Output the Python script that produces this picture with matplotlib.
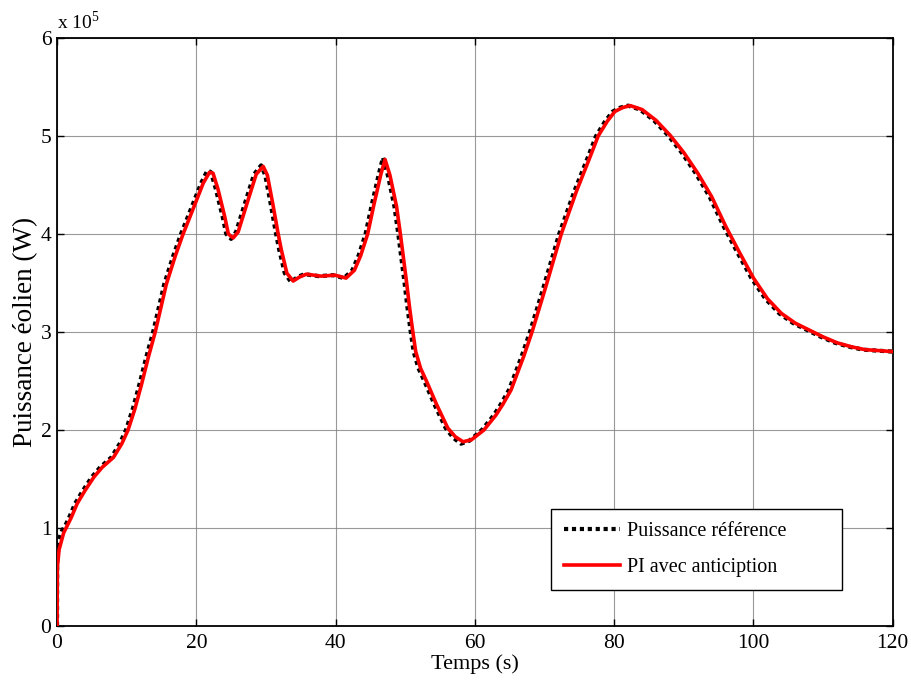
import matplotlib

matplotlib.use("Agg")

import matplotlib.pyplot as plt

plt.rcParams.update(
    {
        "font.family": ["Liberation Serif", "DejaVu Serif"],
        "mathtext.fontset": "custom",
        "mathtext.rm": "Liberation Serif",
    }
)

# wind power, in units of 1e5 W
t_pi = [0, 0.05, 0.3, 0.95, 1.3, 2.0, 2.9, 4.0, 5.3, 6.5, 8.1, 9.3, 10.2, 11.2, 12.15, 13.1, 14.1,
        15.7, 17.0, 18.1, 19.0, 20.0, 21.0, 21.9, 22.4, 23.1, 24.1, 24.6, 25.3, 26.0, 27.4, 28.6,
        29.6, 30.2, 31.0, 31.7, 32.2, 33.0, 33.9, 34.8, 35.8, 37.9, 39.9, 41.5, 42.7, 43.6, 44.6,
        45.5, 46.5, 47.1, 47.8, 48.75, 49.3, 50.2, 50.6, 51.05, 51.5, 52.2, 53.1, 54.5, 56.1, 57.2,
        58.3, 59.5, 61.3, 63.0, 64.0, 65.2, 67.0, 68.2, 70.0, 72.4, 74.6, 76.5, 77.7, 79.0, 80.1,
        81.2, 82.3, 84.0, 86.0, 88.0, 90.0, 92.0, 94.0, 96.0, 98.0, 100.0, 102.0, 104.0, 106.0,
        108.0, 110.0, 112.0, 114.0, 116.0, 118.0, 120.0]
p_pi = [0, 0.6, 0.78, 0.95, 1.0, 1.1, 1.25, 1.38, 1.52, 1.62, 1.72, 1.86, 2.0, 2.22, 2.47, 2.74,
        3.0, 3.49, 3.78, 4.0, 4.16, 4.34, 4.52, 4.63, 4.62, 4.46, 4.17, 4.0, 3.96, 4.02, 4.34,
        4.61, 4.69, 4.6, 4.3, 4.02, 3.84, 3.6, 3.52, 3.56, 3.59, 3.57, 3.58, 3.55, 3.63, 3.78,
        4.0, 4.3, 4.61, 4.76, 4.6, 4.28, 4.0, 3.5, 3.26, 3.02, 2.8, 2.63, 2.49, 2.26, 2.02, 1.93,
        1.88, 1.9, 2.0, 2.15, 2.26, 2.41, 2.75, 3.0, 3.42, 4.0, 4.44, 4.78, 5.0, 5.15, 5.25,
        5.29, 5.31, 5.27, 5.16, 5.01, 4.83, 4.62, 4.38, 4.08, 3.81, 3.55, 3.34, 3.19, 3.09,
        3.02, 2.95, 2.89, 2.85, 2.82, 2.81, 2.8]

t_ref = [0, 0.02, 0.2, 0.7, 1.15, 1.7, 2.6, 3.7, 5.0, 6.2, 7.8, 9.0, 9.9, 10.9, 11.85, 12.8, 13.8,
         15.4, 16.7, 17.8, 18.7, 19.7, 20.7, 21.6, 22.1, 22.8, 23.8, 24.3, 25.0, 25.7, 27.1, 28.3,
         29.3, 29.9, 30.7, 31.4, 31.9, 32.7, 33.6, 34.5, 35.5, 37.6, 39.6, 41.2, 42.4, 43.3, 44.3,
         45.2, 46.2, 46.8, 47.5, 48.45, 49.0, 49.9, 50.3, 50.75, 51.2, 51.9, 52.8, 54.2, 55.8, 56.9,
         58.0, 59.2, 61.0, 62.7, 63.7, 64.9, 66.7, 67.9, 69.7, 72.1, 74.3, 76.2, 77.4, 78.7, 79.8,
         80.9, 82.0, 83.7, 85.7, 87.7, 89.7, 91.7, 93.7, 95.7, 97.7, 99.7, 101.7, 103.7, 105.7,
         107.7, 109.7, 111.7, 113.7, 115.7, 117.7, 120.0]
p_ref = [0, 0.8, 0.87, 0.97, 1.02, 1.1, 1.25, 1.38, 1.52, 1.62, 1.72, 1.86, 2.0, 2.22, 2.47, 2.74,
         3.0, 3.49, 3.78, 4.0, 4.16, 4.34, 4.52, 4.65, 4.63, 4.46, 4.17, 4.0, 3.95, 4.02, 4.34,
         4.61, 4.70, 4.6, 4.3, 4.02, 3.84, 3.6, 3.51, 3.56, 3.59, 3.57, 3.58, 3.55, 3.63, 3.78,
         4.0, 4.3, 4.61, 4.78, 4.6, 4.28, 4.0, 3.5, 3.26, 3.02, 2.8, 2.63, 2.49, 2.26, 2.02, 1.92,
         1.86, 1.89, 2.0, 2.15, 2.26, 2.41, 2.75, 3.0, 3.42, 4.0, 4.44, 4.78, 5.0, 5.15, 5.25,
         5.29, 5.31, 5.27, 5.16, 5.01, 4.83, 4.62, 4.38, 4.08, 3.81, 3.55, 3.34, 3.19, 3.09,
         3.02, 2.95, 2.89, 2.85, 2.82, 2.81, 2.8]

x_ticks = [0, 20, 40, 60, 80, 100, 120]
y_ticks = [0, 1, 2, 3, 4, 5, 6]

fig = plt.figure(figsize=(9.11, 6.86), dpi=100)
ax = fig.add_axes([0.0626, 0.0875, 0.9174, 0.8571])

ax.plot(t_ref, p_ref, color="black", linewidth=3.0, linestyle=(0, (1.0, 0.9)),
        label="Puissance référence", zorder=3)
ax.plot(t_pi, p_pi, color="red", linewidth=2.6, label="PI avec anticiption", zorder=4)

ax.set_xlim(0, 120)
ax.set_ylim(0, 6)
ax.set_xticks(x_ticks)
ax.set_yticks(y_ticks)
ax.grid(True, color="#808080", linewidth=0.8, alpha=0.8)
ax.tick_params(direction="in", length=5, width=1, top=True, right=True, labelsize=15.5)
ax.tick_params(axis="x", pad=6)
ax.tick_params(axis="y", pad=4)
for s in ax.spines.values():
    s.set_linewidth(1.3)

ax.set_xlabel("Temps (s)", fontsize=16, labelpad=1)
ax.set_ylabel("Puissance éolien (W)", fontsize=19.5, labelpad=2)
ax.text(0.0, 1.008, r"x 10$^5$", transform=ax.transAxes, fontsize=14, ha="left", va="bottom")

leg = ax.legend(loc="lower left", bbox_to_anchor=(0.591, 0.061, 0.348, 0.14), mode="expand",
                borderaxespad=0, fontsize=14.5, handlelength=2.8, handletextpad=0.35,
                labelspacing=0.85, borderpad=0.65, fancybox=False, framealpha=1,
                edgecolor="black")
leg.get_frame().set_linewidth(1.0)

fig.savefig("out.png", dpi=100)
